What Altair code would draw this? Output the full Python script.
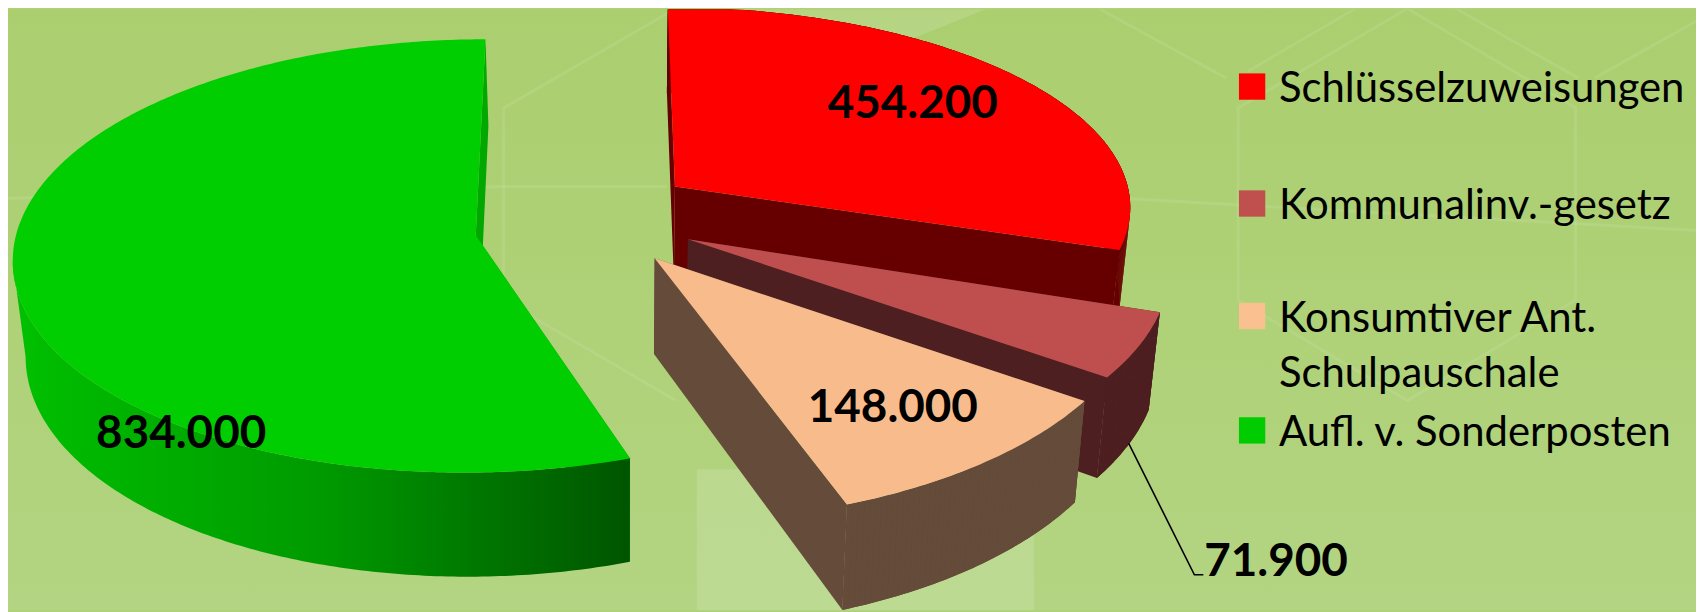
import math
import altair as alt
import pandas as pd

# ---- data ----
names = ["Schlüsselzuweisungen", "Kommunalinv.-gesetz", "Konsumtiver Ant.\nSchulpauschale", "Aufl. v. Sonderposten"]
values = [454200, 71900, 148000, 834000]
top_colors = ["#FF0000", "#BE4F4E", "#F8BC8C", "#00CE00"]
wall_colors = ["#660000", "#4D1F20", "#654B39", "#00A800"]
legend_colors = ["#FF0000", "#C0504D", "#FAC090", "#00CC00"]

# ---- layout (page margin is 8 px) ----
M = 8
W, H = 1696, 604
X0, Y0, B, K = 590, 235, 215.7, 0.095
# explosion, radii and turn of each slice in the tilted plane: dx, dz, rx, rz, rot
slice_layout = [(90, -0.232, 465, 0.95, 0), (101, 0.018, 480, 1.04, 0), (67, 0.106, 484, 1.08, -1.0), (-112, 0.0, 462, 1.0, 0)]


def top_pt(X, Z):
    s = 1 / (1 - K * Z)
    return (X0 + X * s, Y0 + Z * B * s)


def low_pt(p):
    return (629 + (p[0] - 629) * 0.979, p[1] + 96 + 0.04 * (p[1] - 258))


def feature(points, part):
    ring = [[round(x - M, 2), round(y - M, 2)] for x, y in points]
    ring.append(ring[0])
    return {"type": "Feature", "properties": {"part": part},
            "geometry": {"type": "Polygon", "coordinates": [ring]}}


total = sum(values)
edges = [0.0]
for v in values:
    edges.append(edges[-1] + v / total * 360)

faces = []
for i, (v, lay) in enumerate(zip(values, slice_layout)):
    dx, dz, rx, rz, rot = lay
    a0, a1 = edges[i] + rot, edges[i + 1] + rot
    n = max(8, int((a1 - a0) * 1.5))
    angles = [math.radians(a0 + (a1 - a0) * t / n) for t in range(n + 1)]
    rim = [top_pt(dx + rx * math.sin(a), dz - rz * math.cos(a)) for a in angles]
    apex = top_pt(dx, dz)
    low_rim = [low_pt(p) for p in rim]
    low_apex = low_pt(apex)
    wall = f"wall{i}"
    sides = [feature([apex, rim[0], low_rim[0], low_apex], wall),
             feature([apex, rim[-1], low_rim[-1], low_apex], wall)]
    top = feature([apex] + rim, f"top{i}")
    if i == 3:
        # outline of the swept wall: along the rim to its left end, back along the lower rim
        k = min(range(len(rim)), key=lambda t: rim[t][0])
        j = min(range(len(low_rim)), key=lambda t: low_rim[t][0])
        green_side, green_top = sides, top
        green_rim = [feature(rim[: k + 1] + low_rim[j::-1], wall)]
    else:
        sweep = [feature([rim[t], rim[t + 1], low_rim[t + 1], low_rim[t]], wall) for t in range(n)]
        faces += sides + [feature(rim + low_rim[::-1], wall)] + sweep + [top]

domain = [f"top{i}" for i in range(4)] + [f"wall{i}" for i in range(4)]
color_range = top_colors + wall_colors
proj = alt.Projection(type="identity", scale=1, translate=[0, 0])
part_color = alt.Color("properties.part:N", scale=alt.Scale(domain=domain, range=color_range), legend=None)


def shapes(features):
    return alt.Chart(alt.Data(values=features)).mark_geoshape(strokeWidth=0).encode(color=part_color).project(**proj.to_dict())


def line_feature(points):
    return {"type": "Feature", "properties": {},
            "geometry": {"type": "LineString", "coordinates": [[x - M, y - M] for x, y in points]}}


# ---- background ----
bg = alt.Chart(alt.Data(values=[feature([(0, 0), (1704, 0), (1704, 612), (0, 612)], "bg")])).mark_geoshape(
    strokeWidth=0,
    fill=alt.Gradient(gradient="linear", x1=0, y1=0, x2=0, y2=1,
                      stops=[alt.GradientStop(color="#ABCE6F", offset=0),
                             alt.GradientStop(color="#AFD177", offset=0.5),
                             alt.GradientStop(color="#B3D482", offset=1)])
).project(**proj.to_dict())

light_areas = [
    feature([(700, 470), (1039, 470), (1039, 612), (700, 612)], "a"),
    feature([(700, 0), (1010, 0), (860, 60), (760, 40)], "a"),
]
bg_light = alt.Chart(alt.Data(values=light_areas)).mark_geoshape(strokeWidth=0, fill="#FFFFFF", opacity=0.14).project(**proj.to_dict())

hex_lines = [
    line_feature([(1414, 7), (1583, 107), (1583, 300), (1414, 401), (1244, 300), (1244, 107), (1414, 7)]),
    line_feature([(679, 7), (506, 107), (506, 300), (679, 401)]),
    line_feature([(1091, 0), (1232, 77)]),
    line_feature([(1374, 0), (1254, 70)]),
    line_feature([(1450, 0), (1586, 77)]),
    line_feature([(1704, 20), (1602, 77)]),
    line_feature([(0, 198), (506, 186), (670, 186)]),
    line_feature([(1130, 198), (1704, 230)]),
]
bg_lines = alt.Chart(alt.Data(values=hex_lines)).mark_geoshape(filled=False, stroke="#FFFFFF", strokeOpacity=0.09, strokeWidth=3).project(**proj.to_dict())

# ---- pie ----
green_gradient = alt.Gradient(gradient="linear", x1=0, y1=0, x2=1, y2=0,
                              stops=[alt.GradientStop(color="#00C000", offset=0),
                                     alt.GradientStop(color="#009A00", offset=0.5),
                                     alt.GradientStop(color="#005500", offset=1)])
green_back = shapes(green_side)
green_wall = alt.Chart(alt.Data(values=green_rim)).mark_geoshape(strokeWidth=0, fill=green_gradient).project(**proj.to_dict())
front = shapes([green_top] + faces)

# ---- value labels ----
label_xy = [(917, 103), (1282, 563), (897, 409), (182, 435)]
label_df = pd.DataFrame({
    "label": [f"{v:,}".replace(",", ".") for v in values],
    "x": [p[0] - M for p in label_xy],
    "y": [p[1] - M for p in label_xy],
})
labels = alt.Chart(label_df).mark_text(font="Lato", fontSize=46, fontWeight="bold", color="#000000", align="center", baseline="middle").encode(
    x=alt.X("x:Q", scale=None, axis=None), y=alt.Y("y:Q", scale=None, axis=None), text="label:N")

leader = alt.Chart(alt.Data(values=[line_feature([(1134, 444), (1200, 576), (1209, 576)])])).mark_geoshape(
    filled=False, stroke="#000000", strokeWidth=1.6).project(**proj.to_dict())

# ---- legend ----
legend_y = [85.5, 203, 316, 431]
leg_df = pd.DataFrame({"name": names, "color": legend_colors, "y": [y - M for y in legend_y], "ty": [y - M + 3 for y in legend_y]})
leg_sq = alt.Chart(leg_df).mark_square(size=700, opacity=1).encode(
    x=alt.value(1258 - M), y=alt.Y("y:Q", scale=None, axis=None),
    color=alt.Color("color:N", scale=None, legend=None))
leg_txt = alt.Chart(leg_df).mark_text(font="Lato", fontSize=42, color="#000000", align="left", baseline="middle",
                                      lineBreak="\n", lineHeight=55).encode(
    x=alt.value(1285 - M), y=alt.Y("ty:Q", scale=None, axis=None), text="name:N")

chart = alt.layer(bg, bg_light, bg_lines, green_back, green_wall, front, leader, labels, leg_sq, leg_txt).properties(
    width=W, height=H, padding=0, background="#AFD177",
    autosize=alt.AutoSizeParams(type="none")
).configure_view(stroke=None)

chart.save("out.html", embed_options={"renderer": "svg", "actions": False})
